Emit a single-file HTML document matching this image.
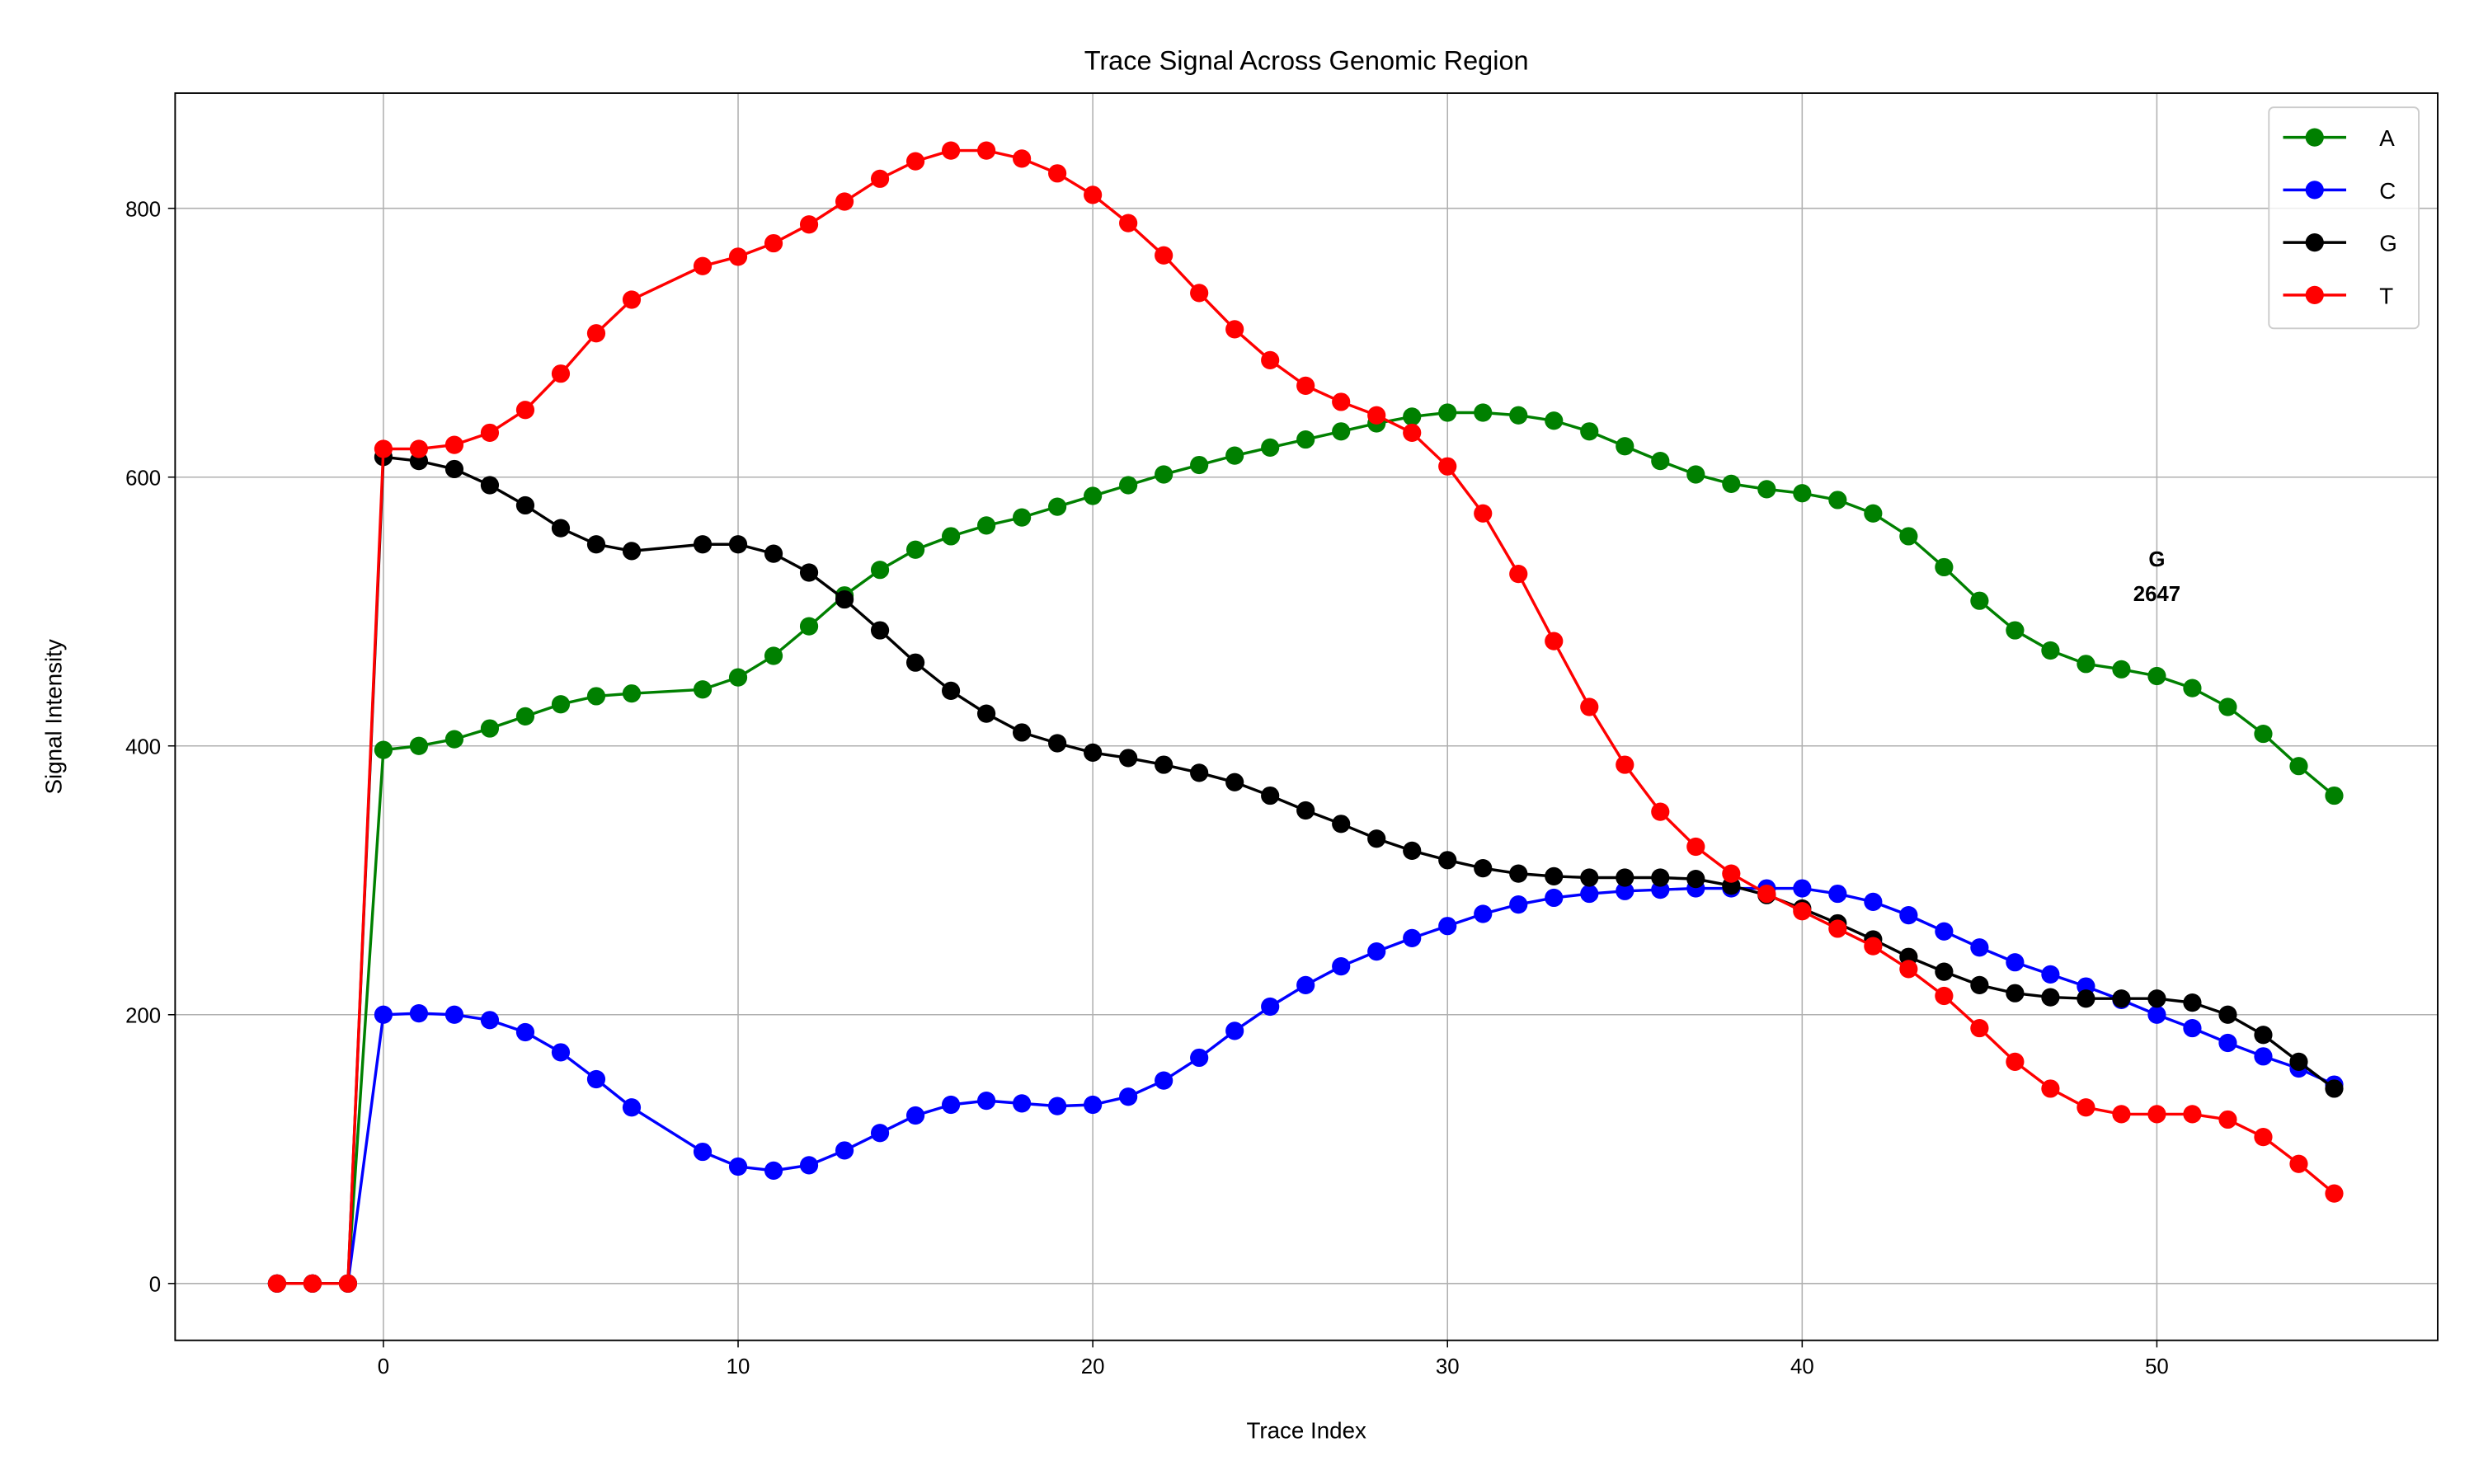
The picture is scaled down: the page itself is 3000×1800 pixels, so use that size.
<!DOCTYPE html>
<html><head><meta charset="utf-8"><style>
html,body{margin:0;padding:0;background:#fff}
svg{display:block}
text{font-family:"Liberation Sans","DejaVu Sans",sans-serif;fill:#000}
</style></head><body>
<svg id="chart" width="3000" height="1800" viewBox="0 0 1568 940" preserveAspectRatio="none" xmlns="http://www.w3.org/2000/svg">
<rect width="1568" height="940" fill="#fff"/>
<g id="grid"></g>
<g id="series"></g>
<rect x="111" y="59" width="1434" height="790" fill="none" stroke="#000" stroke-width="1"/>
<g id="ticks"></g>
<text x="828" y="44" font-size="17" text-anchor="middle">Trace Signal Across Genomic Region</text>
<text x="828" y="911" font-size="14.5" text-anchor="middle">Trace Index</text>
<text transform="translate(39,454) rotate(-90)" font-size="14.5" text-anchor="middle">Signal Intensity</text>
<g id="annot"></g>
<g id="legend"></g>
</svg>
<script>
const xIdx=[-3,-2,-1,0,1,2,3,4,5,6,7,9,10,11,12,13,14,15,16,17,18,19,20,21,22,23,24,25,26,27,28,29,30,31,32,33,34,35,36,37,38,39,40,41,42,43,44,45,46,47,48,49,50,51,52,53,54,55];
const seriesA=[0,0,0,397,400,405,413,422,431,437,439,442,451,467,489,512,531,546,556,564,570,578,586,594,602,609,616,622,628,634,640,645,648,648,646,642,634,623,612,602,595,591,588,583,573,556,533,508,486,471,461,457,452,443,429,409,385,363];
const seriesC=[0,0,0,200,201,200,196,187,172,152,131,98,87,84,88,99,112,125,133,136,134,132,133,139,151,168,188,206,222,236,247,257,266,275,282,287,290,292,293,294,294,294,294,290,284,274,262,250,239,230,221,211,200,190,179,169,160,148];
const seriesG=[0,0,0,615,612,606,594,579,562,550,545,550,550,543,529,509,486,462,441,424,410,402,395,391,386,380,373,363,352,342,331,322,315,309,305,303,302,302,302,301,296,289,279,268,256,243,232,222,216,213,212,212,212,209,200,185,165,145];
const seriesT=[0,0,0,621,621,624,633,650,677,707,732,757,764,774,788,805,822,835,843,843,837,826,810,789,765,737,710,687,668,656,646,633,608,573,528,478,429,386,351,325,305,290,277,264,251,234,214,190,165,145,131,126,126,126,122,109,89,67];
const seriesNames=["A","C","G","T"];
const seriesColors=["green","blue","black","red"];
const xTicks=[0,10,20,30,40,50];
const yTicks=[0,200,400,600,800];
const annotation={x:50,y:530,label:"G",value:"2647"};
const NS="http://www.w3.org/2000/svg";
const X=v=>243+v*22.48;
const Y=v=>813-v*0.8513;
function mk(tag,attrs,parent){const e=document.createElementNS(NS,tag);for(const k in attrs)e.setAttribute(k,attrs[k]);parent.appendChild(e);return e;}
const grid=document.getElementById('grid'),ticks=document.getElementById('ticks');
xTicks.forEach(t=>{
 const l=mk('line',{x1:X(t),x2:X(t),y1:59,y2:849,stroke:'#b0b0b0','stroke-width':0.8},grid);
 
 
 mk('line',{x1:X(t),x2:X(t),y1:849,y2:853.5,stroke:'#000','stroke-width':0.8},ticks);
 const tx=mk('text',{x:X(t),y:870,'font-size':13.5,'text-anchor':'middle'},ticks);tx.textContent=t;
 
 
});
yTicks.forEach(t=>{
 const l=mk('line',{x1:111,x2:1545,y1:Y(t),y2:Y(t),stroke:'#b0b0b0','stroke-width':0.8},grid);
 
 
 mk('line',{x1:106.5,x2:111,y1:Y(t),y2:Y(t),stroke:'#000','stroke-width':0.8},ticks);
 const tx=mk('text',{x:102,y:Y(t)+5,'font-size':13.5,'text-anchor':'end'},ticks);tx.textContent=t;
 
 
});
const sg=document.getElementById('series');
[seriesA,seriesC,seriesG,seriesT].forEach((s,i)=>{
 const g=mk('g',{},sg);
 
 
 const pts=s.map((v,j)=>X(xIdx[j]).toFixed(2)+','+Y(v).toFixed(2)).join(' ');
 const pl=mk('polyline',{points:pts,fill:'none',stroke:seriesColors[i],'stroke-width':1.8},g);
 
 
 s.forEach((v,j)=>{
  const c=mk('circle',{cx:X(xIdx[j]),cy:Y(v),r:5.8,fill:seriesColors[i]},g);
  
  
 });
});
const an=document.getElementById('annot');
const a1=mk('text',{x:X(annotation.x),y:Y(annotation.y)-3,'font-size':13.5,'font-weight':'bold','text-anchor':'middle'},an);a1.textContent=annotation.label;
const a2=mk('text',{x:X(annotation.x),y:Y(annotation.y)+19,'font-size':13.5,'font-weight':'bold','text-anchor':'middle'},an);a2.textContent=annotation.value;
const lg=document.getElementById('legend');
mk('rect',{x:1438,y:68,width:95,height:140,rx:3,fill:'#fff','fill-opacity':0.8,stroke:'#ccc','stroke-width':1},lg);
seriesNames.forEach((n,i)=>{
 const yy=87+i*33.3;
 const g=mk('g',{},lg);
 
 
 mk('line',{x1:1447,x2:1487,y1:yy,y2:yy,stroke:seriesColors[i],'stroke-width':1.8},g);
 mk('circle',{cx:1467,cy:yy,r:5.8,fill:seriesColors[i]},g);
 const t=mk('text',{x:1508,y:yy+5.5,'font-size':14.5},g);t.textContent=n;
});
</script>
</body></html>
